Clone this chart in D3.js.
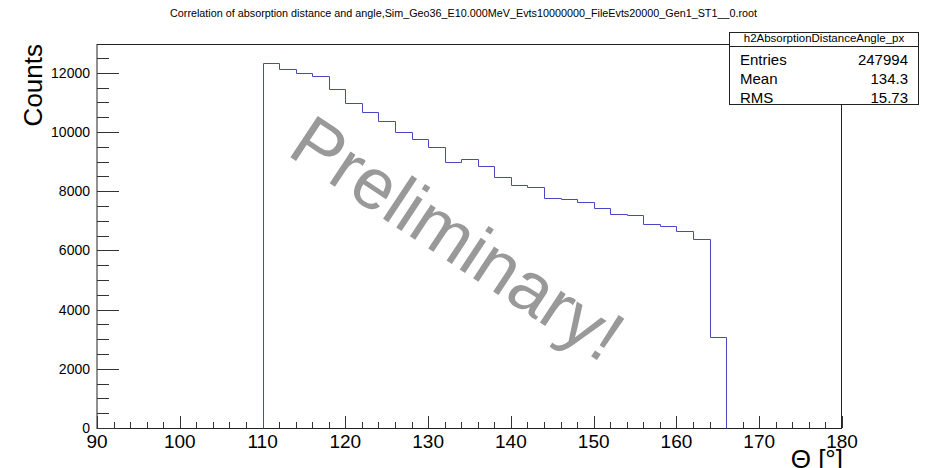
<!DOCTYPE html>
<html>
<head>
<meta charset="utf-8">
<script src="https://cdn.jsdelivr.net/npm/d3@7"></script>
<style>
  body { margin: 0; background: #fff; }
  svg { display: block; font-family: "Liberation Sans", Arial, sans-serif; }
</style>
</head>
<body>
<svg id="chart" width="926" height="468"></svg>
<script>
// histogram contents (2 degree bins from 110 to 166)
var binLow = [110, 112, 114, 116, 118, 120, 122, 124, 126, 128, 130, 132, 134, 136,
              138, 140, 142, 144, 146, 148, 150, 152, 154, 156, 158, 160, 162, 164];
var counts = [12340, 12110, 11980, 11900, 11460, 10970, 10680, 10380, 10000, 9750, 9490, 8970, 9100, 8850,
              8470, 8220, 8130, 7770, 7720, 7640, 7420, 7230, 7190, 6880, 6830, 6650, 6370, 3060];
var binWidth = 2;

var xTicks = [90, 100, 110, 120, 130, 140, 150, 160, 170, 180];
var yTicks = [0, 2000, 4000, 6000, 8000, 10000, 12000];

var titleText = "Correlation of absorption distance and angle,Sim_Geo36_E10.000MeV_Evts10000000_FileEvts20000_Gen1_ST1__0.root";
var statsName = "h2AbsorptionDistanceAngle_px";
var statsRows = [["Entries", "247994"], ["Mean", "134.3"], ["RMS", "15.73"]];

var frame = {left: 97, right: 842, top: 44, bottom: 428};

var svg = d3.select("#chart");

var x = d3.scaleLinear().domain([90, 180]).range([frame.left, frame.right]);
var y = d3.scaleLinear().domain([0, 12970]).range([frame.bottom, frame.top]);

// title
svg.append("text")
    .attr("x", 170)
    .attr("y", 17)
    .attr("font-size", 10)
    .attr("textLength", 587)
    .attr("lengthAdjust", "spacingAndGlyphs")
    .text(titleText);

// frame
svg.append("rect")
    .attr("x", frame.left)
    .attr("y", frame.top + 0.5)
    .attr("width", frame.right - frame.left - 0.5)
    .attr("height", frame.bottom - frame.top)
    .attr("fill", "none")
    .attr("stroke", "#222")
    .attr("stroke-width", 1);

// x ticks (major every 10, minor every 2), pointing up
var xMinor = d3.range(90, 180.1, 2).filter(function(d){ return d % 10 != 0; });
svg.append("g").selectAll("line")
    .data(xMinor)
    .join("line")
    .attr("x1", d => Math.round(x(d)) + 0.5)
    .attr("x2", d => Math.round(x(d)) + 0.5)
    .attr("y1", frame.bottom)
    .attr("y2", frame.bottom - 6)
    .attr("stroke", "#333");
svg.append("g").selectAll("line")
    .data(xTicks)
    .join("line")
    .attr("x1", d => Math.round(x(d)) + 0.5)
    .attr("x2", d => Math.round(x(d)) + 0.5)
    .attr("y1", frame.bottom)
    .attr("y2", frame.bottom - 12)
    .attr("stroke", "#333");
svg.append("g").selectAll("text")
    .data(xTicks)
    .join("text")
    .attr("x", d => x(d))
    .attr("y", 448)
    .attr("text-anchor", "middle")
    .attr("font-size", 19)
    .text(d => d);

// y ticks (major every 2000, minor every 500), pointing right
var yMinor = d3.range(500, 12501, 500).filter(function(d){ return d % 2000 != 0; });
svg.append("g").selectAll("line")
    .data(yMinor)
    .join("line")
    .attr("x1", frame.left)
    .attr("x2", frame.left + 12)
    .attr("y1", d => Math.round(y(d)) + 0.5)
    .attr("y2", d => Math.round(y(d)) + 0.5)
    .attr("stroke", "#333");
svg.append("g").selectAll("line")
    .data(yTicks)
    .join("line")
    .attr("x1", frame.left)
    .attr("x2", frame.left + 22)
    .attr("y1", d => Math.round(y(d)) + 0.5)
    .attr("y2", d => Math.round(y(d)) + 0.5)
    .attr("stroke", "#333");
svg.append("g").selectAll("text")
    .data(yTicks)
    .join("text")
    .attr("x", 90)
    .attr("y", d => y(d) + 5)
    .attr("text-anchor", "end")
    .attr("font-size", 14)
    .text(d => d);

// axis titles
svg.append("text")
    .attr("transform", "translate(42," + frame.top + ") rotate(-90)")
    .attr("text-anchor", "end")
    .attr("font-size", 26)
    .text("Counts");

svg.append("text")
    .attr("x", frame.right + 1)
    .attr("y", 468)
    .attr("text-anchor", "end")
    .attr("font-size", 26)
    .text("Θ [°]");

// watermark
svg.append("text")
    .attr("transform", "translate(444,259) rotate(33.5)")
    .attr("text-anchor", "middle")
    .attr("font-size", 72)
    .attr("fill", "#999")
    .text("Preliminary!");

// histogram outline as a step line
var pts = [[binLow[0], 0]];
binLow.forEach(function(b, i){
    pts.push([b, counts[i]]);
    pts.push([b + binWidth, counts[i]]);
});
pts.push([binLow[binLow.length - 1] + binWidth, 0]);

var line = d3.line()
    .x(d => Math.round(x(d[0])) + 0.5)
    .y(d => Math.round(y(d[1])) + 0.5);

svg.append("path")
    .attr("d", line(pts))
    .attr("fill", "none")
    .attr("stroke", "#4848c4")
    .attr("stroke-width", 1);

// stats box
var box = svg.append("g");
box.append("rect")
    .attr("x", 729.5)
    .attr("y", 32.5)
    .attr("width", 189)
    .attr("height", 72)
    .attr("fill", "#fff")
    .attr("stroke", "#222");
box.append("line")
    .attr("x1", 729.5).attr("x2", 918.5)
    .attr("y1", 46.5).attr("y2", 46.5)
    .attr("stroke", "#222");
box.append("text")
    .attr("x", 824)
    .attr("y", 42)
    .attr("text-anchor", "middle")
    .attr("font-size", 11.5)
    .text(statsName);
box.selectAll("text.lbl")
    .data(statsRows)
    .join("text")
    .attr("class", "lbl")
    .attr("x", 740)
    .attr("y", (d, i) => 64.5 + i * 19)
    .attr("font-size", 15)
    .text(d => d[0]);
box.selectAll("text.val")
    .data(statsRows)
    .join("text")
    .attr("class", "val")
    .attr("x", 908)
    .attr("y", (d, i) => 64.5 + i * 19)
    .attr("text-anchor", "end")
    .attr("font-size", 15)
    .text(d => d[1]);
</script>
</body>
</html>
